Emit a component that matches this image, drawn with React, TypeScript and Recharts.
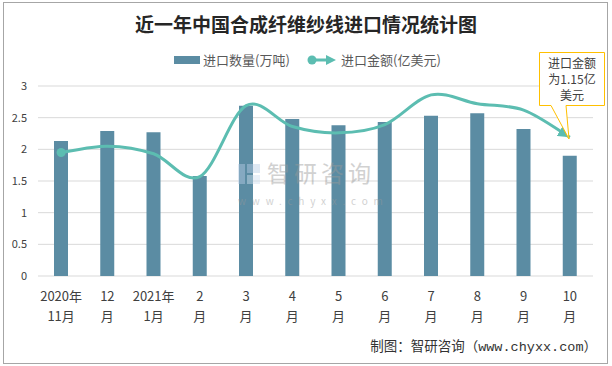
import React from 'react'
import { ComposedChart, Bar, Line, XAxis, YAxis, CartesianGrid } from 'recharts'

const tickTop = ['2020年', '12', '2021年', '2', '3', '4', '5', '6', '7', '8', '9', '10']
const tickBottom = ['11月', '月', '1月', '月', '月', '月', '月', '月', '月', '月', '月', '月']
const volume = [2.13, 2.29, 2.27, 1.58, 2.69, 2.48, 2.38, 2.43, 2.53, 2.57, 2.32, 1.9]
const amount = [1.95, 2.05, 1.93, 1.57, 2.69, 2.36, 2.26, 2.39, 2.86, 2.72, 2.62, 2.19]
const yTicks = [0, 0.5, 1, 1.5, 2, 2.5, 3]

const BAR_COLOR = '#5b8ca3'
const LINE_COLOR = '#5cbdb1'
const FONT = '"Noto Sans CJK SC", "Noto Sans", sans-serif'

const chartData = tickTop.map((t, i) => ({
  key: String(i),
  volume: volume[i],
  amount: amount[i],
}))

// Excel-style smooth line (bezier through points, catmull-rom tangents)
const excelCurve = (context: any) => {
  let xs: number[] = []
  let ys: number[] = []
  return {
    areaStart() {},
    areaEnd() {},
    lineStart() {
      xs = []
      ys = []
    },
    point(x: number, y: number) {
      xs.push(+x)
      ys.push(+y)
    },
    lineEnd() {
      const n = xs.length
      if (!n) return
      context.moveTo(xs[0], ys[0])
      for (let i = 0; i < n - 1; i++) {
        const a = i > 0 ? i - 1 : i
        const d = i + 2 < n ? i + 2 : i + 1
        context.bezierCurveTo(
          xs[i] + (xs[i + 1] - xs[a]) / 6,
          ys[i] + (ys[i + 1] - ys[a]) / 6,
          xs[i + 1] - (xs[d] - xs[i]) / 6,
          ys[i + 1] - (ys[d] - ys[i]) / 6,
          xs[i + 1],
          ys[i + 1]
        )
      }
    },
  }
}

const XTick = ({ x, y, payload }: any) => {
  const i = Number(payload.value)
  return (
    <text x={x} textAnchor="middle" fontSize={13} fill="#404040" fontFamily={FONT}>
      <tspan x={x} y={y + 25}>{tickTop[i]}</tspan>
      <tspan x={x} y={y + 45}>{tickBottom[i]}</tspan>
    </text>
  )
}

const StartDot = (props: any) => {
  if (props.index !== 0) return <g key={props.key} />
  return <circle key={props.key} cx={props.cx} cy={props.cy} r={4.5} fill={LINE_COLOR} />
}

export default function App() {
  return (
    <div style={{ position: 'absolute', left: 0, top: 0, width: 612, height: 366, background: '#fff' }}>
      <svg width={0} height={0} style={{ position: 'absolute' }}>
        <defs>
          <marker
            id="arrowHead"
            viewBox="0 0 12 11"
            markerWidth={12}
            markerHeight={11}
            refX={12}
            refY={5.5}
            orient="auto"
            markerUnits="userSpaceOnUse"
          >
            <path d="M0,0 L12,5.5 L0,11 z" fill={LINE_COLOR} />
          </marker>
        </defs>
      </svg>
      <ComposedChart width={612} height={366} data={chartData} margin={{ top: 86, right: 19, bottom: 60, left: 0 }}>
        <CartesianGrid horizontal vertical={false} stroke="#d9d9d9" />
        <XAxis
          dataKey="key"
          height={30}
          axisLine={false}
          tickLine={false}
          tickSize={0}
          tickMargin={0}
          tick={<XTick />}
          interval={0}
        />
        <YAxis
          width={38}
          domain={[0, 3]}
          ticks={yTicks}
          axisLine={false}
          tickLine={false}
          tickSize={0}
          tickMargin={11}
          tick={{ fontSize: 11, fill: '#404040', fontFamily: FONT }}
        />
        <Bar dataKey="volume" fill={BAR_COLOR} barSize={14} isAnimationActive={false} />
        <Line
          dataKey="amount"
          type={excelCurve as any}
          stroke={LINE_COLOR}
          strokeWidth={3}
          dot={StartDot}
          activeDot={false}
          markerEnd="url(#arrowHead)"
          isAnimationActive={false}
        />
      </ComposedChart>
      <svg width={612} height={366} style={{ position: 'absolute', left: 0, top: 0, pointerEvents: 'none' }}>
        <rect x={3.5} y={2.5} width={604} height={361} fill="none" stroke="#a6a6a6" />
        <text x={306} y={32} textAnchor="middle" fontSize={19} fontWeight="bold" fill="#262626" fontFamily={FONT}>
          近一年中国合成纤维纱线进口情况统计图
        </text>

        <rect x={174} y={56} width={26} height={8} fill={BAR_COLOR} />
        <text x={203} y={65} fontSize={13} fill="#595959" fontFamily={FONT}>进口数量(万吨)</text>
        <line x1={312} y1={60} x2={328} y2={60} stroke={LINE_COLOR} strokeWidth={3} />
        <circle cx={312} cy={60} r={4.5} fill={LINE_COLOR} />
        <path d="M326,55 L336,60 L326,65 z" fill={LINE_COLOR} />
        <text x={341} y={65} fontSize={13} fill="#595959" fontFamily={FONT}>进口金额(亿美元)</text>

        <path
          d="M539.5,52.5 L604.5,52.5 L604.5,105.5 L566,105.5 L569,139 L551,105.5 L539.5,105.5 z"
          fill="#fff"
          stroke="#ffc000"
        />
        <g fontSize={12} fill="#404040" fontFamily={FONT} textAnchor="middle">
          <text x={572} y={68}>进口金额</text>
          <text x={572} y={84}>为1.15亿</text>
          <text x={572} y={100}>美元</text>
        </g>

        <g opacity={0.45}>
          <rect x={238} y={164} width={7} height={20} fill="#b8cde6" />
          <rect x={247} y={164} width={13} height={9} fill="#b8cde6" />
          <rect x={247} y={175} width={13} height={9} fill="#cfe0f0" />
          <text x={267} y={182} fontSize={23} fill="#9a9a9a" letterSpacing={4} fontFamily={FONT}>智研咨询</text>
          <text x={238} y={205} fontSize={10} fill="#9a9a9a" letterSpacing={5.8} fontFamily={FONT}>www.chyxx.com</text>
        </g>

        <text x={597} y={351} textAnchor="end" fontSize={13.5} fill="#333" fontFamily={FONT}>
          制图：智研咨询（<tspan fontFamily='"Liberation Mono", monospace'>www.chyxx.com</tspan>）
        </text>
      </svg>
    </div>
  )
}
